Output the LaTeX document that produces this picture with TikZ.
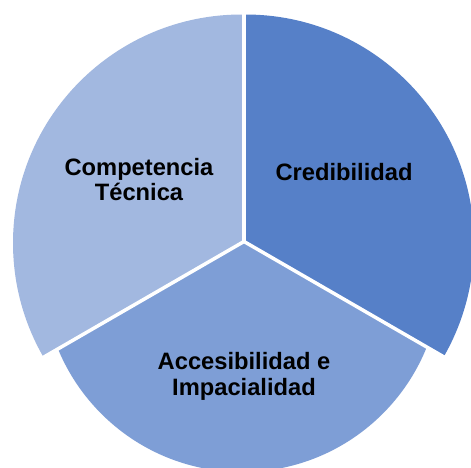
\documentclass[tikz,border=0pt]{standalone}
\usepackage{fontspec}
\setmainfont{Liberation Sans}
\definecolor{wedgeR}{RGB}{86,128,200}
\definecolor{wedgeB}{RGB}{126,158,214}
\definecolor{wedgeL}{RGB}{162,184,224}
\begin{document}
\begin{tikzpicture}[x=1pt,y=-1pt,
  lbl/.style={font=\fontsize{23.7}{25.5}\selectfont\bfseries, text=black, align=center, inner sep=0pt},
  gap/.style={draw=white, line width=3.5pt}]
\clip (0,0) rectangle (471,467);
\fill[white] (0,0) rectangle (471,467);
% right wedge
\begin{scope}
  \clip (244,241.5) -- (244,-100) -- (700,-100) -- (677,491.5) -- cycle;
  \fill[wedgeR] (245.5,243) circle[radius=228.5];
\end{scope}
% left wedge
\begin{scope}
  \clip (244,241.5) -- (244,-100) -- (-300,-100) -- (-189,491.5) -- cycle;
  \fill[wedgeL] (241.5,243) circle[radius=228.5];
\end{scope}
% bottom wedge
\begin{scope}
  \clip (244,241.5) -- (677,491.5) -- (677,800) -- (-189,800) -- (-189,491.5) -- cycle;
  \fill[wedgeB] (242,273) circle[radius=199];
\end{scope}
% gaps
\coordinate (o) at (244,241.5);
\coordinate (gt) at (244,-20);
\coordinate (gr) at (677,491.5);
\coordinate (gl) at (-189,491.5);
\draw[gap] (o) -- (gt);
\draw[gap] (o) -- (gr);
\draw[gap] (o) -- (gl);
% labels
\node[lbl] (cred) at (344,172) {Credibilidad};
\node[lbl] (comp) at (139,179.5) {Competencia\\Técnica};
\node[lbl] (acc) at (244,376.5) {Accesibilidad e\\Impacialidad};
\end{tikzpicture}
\end{document}
